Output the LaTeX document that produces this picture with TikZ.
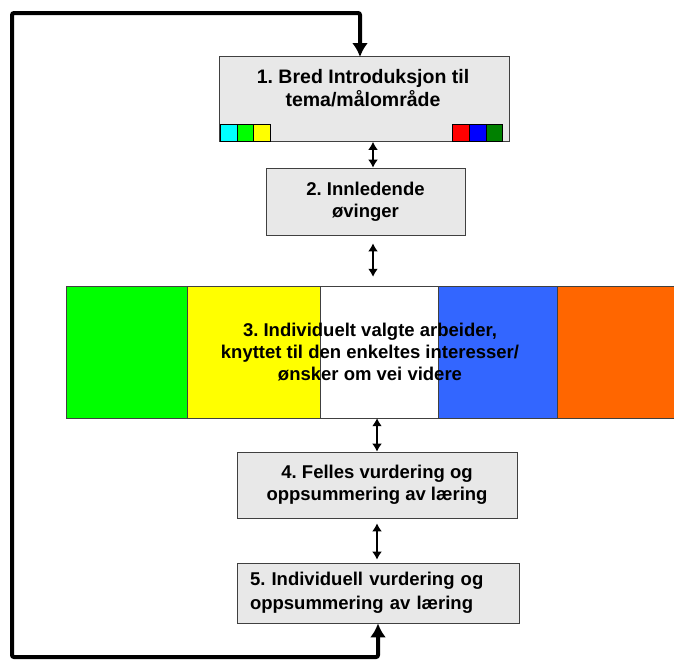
\documentclass[tikz,border=0pt]{standalone}
\usepackage{fontspec}
\setmainfont{Liberation Sans}
\usetikzlibrary{arrows.meta}

\definecolor{boxgray}{HTML}{E8E8E8}
\definecolor{edgegray}{HTML}{404040}
\definecolor{chipcyan}{HTML}{00FFFF}
\definecolor{chipgreen}{HTML}{00FF00}
\definecolor{chipyellow}{HTML}{FFFF00}
\definecolor{chipred}{HTML}{FF0000}
\definecolor{chipblue}{HTML}{0000FF}
\definecolor{darkgreen}{HTML}{008000}
\definecolor{bandblue}{HTML}{3366FF}
\definecolor{bandorange}{HTML}{FF6600}

\tikzset{
  stepfont/.style={font=\bfseries\frenchspacing\fontsize{18.5}{22}\selectfont},
  stepbox/.style={draw=edgegray, fill=boxgray, line width=0.8pt, align=center,
    stepfont, inner sep=0pt},
  link/.style={line width=2pt, {Latex[length=8pt,width=10pt]}-{Latex[length=8pt,width=10pt]}},
  loop/.style={line width=4pt, rounded corners=2pt,
    {Latex[length=14pt,width=16pt]}-{Latex[length=14pt,width=16pt]}},
  chip/.style={draw=black, line width=0.6pt},
  stripe/.style={draw=edgegray, line width=0.8pt}
}

\begin{document}
\begin{tikzpicture}[x=1pt, y=-1pt]
  \useasboundingbox (0,0) rectangle (674,659);

  % 1. introduction
  \node[stepbox, minimum width=290pt, minimum height=85pt] (intro) at (364,99) {};
  \node[align=center, font=\bfseries\frenchspacing\fontsize{19.5}{23}\selectfont,
    inner sep=0pt] (introtext) at (363,88) {1. Bred Introduksjon til\\tema/målområde};
  \draw[chip, fill=chipcyan]   (220,124) rectangle (237,141);
  \draw[chip, fill=chipgreen]  (237,124) rectangle (253,141);
  \draw[chip, fill=chipyellow] (253,124) rectangle (270,141);
  \draw[chip, fill=chipred]    (452,124) rectangle (469,141);
  \draw[chip, fill=chipblue]   (469,124) rectangle (486,141);
  \draw[chip, fill=darkgreen]  (486,124) rectangle (502,141);

  % 2. first exercises
  \node[stepbox, minimum width=199pt, minimum height=67pt] (exer) at (365.5,201.5)
    {2. Innledende\\øvinger};

  % 3. individual work, coloured band
  \draw[stripe, fill=chipgreen]  (66,286)  rectangle (187,418);
  \draw[stripe, fill=chipyellow] (187,286) rectangle (320,418);
  \draw[stripe, fill=white]      (320,286) rectangle (438,418);
  \draw[stripe, fill=bandblue]   (438,286) rectangle (557,418);
  \draw[stripe, fill=bandorange] (557,286) rectangle (676,418);
  \node[align=center, stepfont, minimum width=608pt, minimum height=132pt] (work) at (370,352)
    {3. Individuelt valgte arbeider,\\knyttet til den enkeltes interesser/\\ønsker om vei videre};

  % 4. joint assessment
  \node[stepbox, minimum width=280pt, minimum height=66pt] (joint) at (377,485)
    {4. Felles vurdering og\\oppsummering av læring};

  % 5. individual assessment
  \node[stepbox, minimum height=60pt, text width=256pt, align=left, inner xsep=13pt,
    font=\bfseries\frenchspacing\fontsize{18.5}{24}\selectfont] (self) at (378,593)
    {5. Individuell vurdering og\\oppsummering av læring};

  % links between steps
  \draw[link] ([xshift=9pt]intro.south) -- ([xshift=7.5pt]exer.north);
  \draw[link, shorten <=8pt, shorten >=9pt] ([xshift=7.5pt]exer.south) -- ([xshift=3pt]work.north);
  \draw[link] ([xshift=7pt]work.south) -- (joint.north);
  \draw[link, shorten <=5pt, shorten >=3pt] (joint.south) -- ([xshift=-1pt]self.north);

  % feedback loop
  \coordinate (bottom) at (378,657);
  \coordinate (corner) at (12,13);
  \draw[loop] (self.south) -- (bottom) -| (corner) -| (360,57);
\end{tikzpicture}
\end{document}
